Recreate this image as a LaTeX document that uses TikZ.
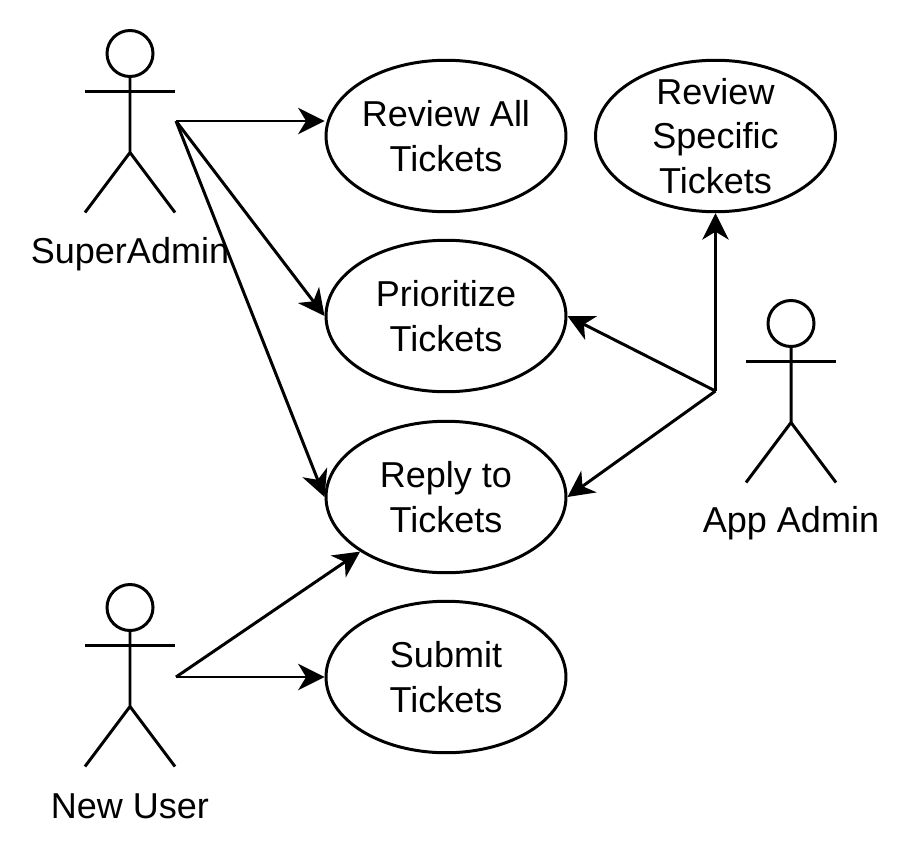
\documentclass[tikz,border=0pt]{standalone}
\usepackage{fontspec}
\setmainfont{Liberation Sans}
\usetikzlibrary{arrows.meta, positioning, shapes.geometric}
\definecolor{umlInk}{HTML}{000000}

\begin{document}
\begin{tikzpicture}[x=0.02cm, y=-0.02cm,
    usecase/.style={ellipse, draw=umlInk, line width=1.7pt, minimum width=4.8cm,
                    minimum height=3.03cm, inner sep=-12pt, align=center,
                    font=\fontsize{20.5}{25.2}\selectfont},
    actorname/.style={font=\fontsize{20.5}{23}\selectfont, text=umlInk, inner sep=0pt},
    actorline/.style={draw=umlInk, line width=1.7pt},
    link/.style={draw=umlInk, line width=1.7pt, -{Stealth[length=15pt, width=15pt, inset=4.5pt]}},
  ]
    \useasboundingbox (0,0) rectangle (910,862);

    % Actors: head at (\hx, \hy), arms, body, legs, name at \ly
    \foreach \who/\hx/\hy/\ly/\txt in {%
      super/130/53.5/254/SuperAdmin,
      newuser/130/607.5/806/New User,
      appadmin/791/323.5/523/App Admin}{
      \draw[actorline] (\hx, \hy) circle[radius=23];
      \draw[actorline] (\hx, \hy+23) -- (\hx, \hy+99) -- (\hx-45, \hy+159);
      \draw[actorline] (\hx, \hy+99) -- (\hx+45, \hy+159);
      \draw[actorline] (\hx-45, \hy+38) -- (\hx+45, \hy+38);
      \node[actorname] (\who) at (\hx, \ly) {\txt};
    }

    % Use cases
    \node[usecase] (reviewall) at (446,136) {Review All\\Tickets};
    \node[usecase] (prioritize) at (446,316) {Prioritize\\Tickets};
    \node[usecase] (reply) at (446,497) {Reply to\\Tickets};
    \node[usecase] (submit) at (446,677) {Submit\\Tickets};
    \node[usecase] (reviewspec) at (715.5,136) {Review\\Specific\\Tickets};

    % Where the connectors start
    \coordinate (superout) at (176,121);
    \coordinate (newout) at (176,677);
    \coordinate (appout) at (715.5,391);

    \draw[link] (superout) -- (reviewall.west |- superout);
    \draw[link] (superout) -- (prioritize.west);
    \draw[link] (superout) -- (reply.west);
    \draw[link] (newout) -- (reply.south west);
    \draw[link] (newout) -- (submit.west);
    \draw[link] (appout) -- (reviewspec.south);
    \draw[link] (appout) -- (prioritize.east);
    \draw[link] (appout) -- (reply.east);
\end{tikzpicture}
\end{document}
